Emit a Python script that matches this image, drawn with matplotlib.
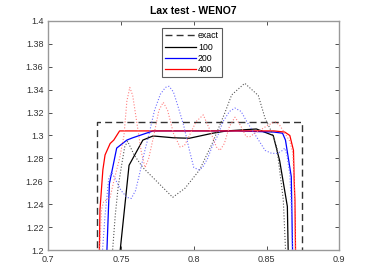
import matplotlib
matplotlib.use("Agg")
import matplotlib.pyplot as plt
from matplotlib.ticker import FormatStrFormatter

plt.rcParams['font.family'] = ['Liberation Sans', 'DejaVu Sans']

# exact solution
exact_x = [0.70, 0.7333, 0.7333, 0.8741, 0.8741, 0.90]
exact_y = [0.50, 0.50, 1.312, 1.312, 0.50, 0.50]

# solid curves (labelled)
x100 = [0.7486, 0.7555, 0.765, 0.772, 0.786, 0.797, 0.813, 0.8226, 0.843, 0.8546, 0.859, 0.8643, 0.865]
y100 = [1.19, 1.274, 1.296, 1.2996, 1.298, 1.2976, 1.302, 1.304, 1.3057, 1.300, 1.278, 1.238, 1.19]
x200 = [0.740, 0.742, 0.747, 0.754, 0.758, 0.765, 0.772, 0.80, 0.83, 0.855, 0.861, 0.863, 0.867, 0.868]
y200 = [1.19, 1.258, 1.289, 1.296, 1.298, 1.301, 1.304, 1.304, 1.304, 1.303, 1.302, 1.296, 1.264, 1.19]
x400 = [0.735, 0.7355, 0.7375, 0.739, 0.7425, 0.745, 0.749, 0.76, 0.80, 0.84, 0.855, 0.8625, 0.866, 0.8685, 0.869, 0.8695, 0.870]
y400 = [1.19, 1.235, 1.27, 1.283, 1.293, 1.296, 1.304, 1.304, 1.304, 1.304, 1.304, 1.303, 1.300, 1.287, 1.26, 1.244, 1.19]

# dotted curves (unlabelled)
xd100 = [0.7436, 0.746, 0.748, 0.7505, 0.7525, 0.7545, 0.759, 0.765, 0.7745, 0.7855, 0.794, 0.804, 0.813, 0.8214, 0.826, 0.835, 0.8443, 0.849, 0.8535, 0.857, 0.8615, 0.8634]
yd100 = [1.19, 1.23, 1.255, 1.275, 1.29, 1.295, 1.283, 1.272, 1.26, 1.246, 1.254, 1.27, 1.294, 1.32, 1.3354, 1.3456, 1.335, 1.315, 1.303, 1.29, 1.244, 1.19]
xd200 = [0.7367, 0.739, 0.7415, 0.7435, 0.746, 0.750, 0.754, 0.757, 0.760, 0.763, 0.766, 0.769, 0.773, 0.777, 0.7805, 0.783, 0.786, 0.789, 0.793, 0.797, 0.800, 0.8035, 0.806, 0.8095, 0.8125, 0.8165, 0.820, 0.8245, 0.8283, 0.8325, 0.8365, 0.8405, 0.8455, 0.849, 0.8535, 0.8575, 0.861, 0.8625, 0.864, 0.866, 0.867, 0.868]
yd200 = [1.19, 1.23, 1.262, 1.268, 1.262, 1.252, 1.246, 1.245, 1.252, 1.268, 1.285, 1.30, 1.322, 1.336, 1.342, 1.343, 1.338, 1.326, 1.309, 1.287, 1.272, 1.27, 1.272, 1.28, 1.29, 1.30, 1.312, 1.321, 1.324, 1.321, 1.312, 1.304, 1.294, 1.287, 1.2844, 1.2844, 1.287, 1.289, 1.283, 1.266, 1.24, 1.19]
xd400 = [0.735, 0.7365, 0.738, 0.7425, 0.745, 0.749, 0.752, 0.754, 0.756, 0.758, 0.761, 0.764, 0.7665, 0.769, 0.7725, 0.776, 0.779, 0.782, 0.786, 0.7905, 0.7935, 0.797, 0.8015, 0.8065, 0.811, 0.8155, 0.818, 0.821, 0.8245, 0.8283, 0.832, 0.836, 0.8386, 0.842, 0.846, 0.851, 0.856, 0.859, 0.862, 0.866, 0.868, 0.869, 0.8695, 0.870]
yd400 = [1.19, 1.235, 1.242, 1.246, 1.26, 1.28, 1.30, 1.33, 1.342, 1.335, 1.31, 1.285, 1.272, 1.28, 1.30, 1.322, 1.329, 1.322, 1.302, 1.29, 1.291, 1.30, 1.312, 1.318, 1.305, 1.29, 1.287, 1.293, 1.308, 1.316, 1.309, 1.299, 1.299, 1.302, 1.305, 1.309, 1.312, 1.309, 1.303, 1.295, 1.285, 1.26, 1.22, 1.19]

xticks = [0.7, 0.75, 0.8, 0.85, 0.9]
yticks = [1.2, 1.22, 1.24, 1.26, 1.28, 1.3, 1.32, 1.34, 1.36, 1.38, 1.4]

fig = plt.figure(figsize=(3.74, 2.8), dpi=100)
ax = fig.add_axes([48.3/374, 30/280, 291/374, 229/280])

ax.plot(exact_x, exact_y, '--', color='#333333', lw=1.0, dashes=(5, 3), label='exact')
ax.plot(x100, y100, '-', color='black', lw=0.9, label='100')
ax.plot(x200, y200, '-', color='#0000ff', lw=0.9, label='200')
ax.plot(x400, y400, '-', color='#ff0000', lw=0.9, label='400')
ax.plot(xd100, yd100, ':', color='#555555', lw=0.8)
ax.plot(xd200, yd200, ':', color='#6e6eff', lw=0.8)
ax.plot(xd400, yd400, ':', color='#ff8080', lw=0.8)

ax.set_xlim(0.7, 0.9)
ax.set_ylim(1.2, 1.4)
ax.set_xticks(xticks)
ax.set_yticks(yticks)
ax.xaxis.set_major_formatter(FormatStrFormatter('%g'))
ax.yaxis.set_major_formatter(FormatStrFormatter('%g'))
ax.tick_params(direction='in', top=True, right=True, labelsize=6.5, colors='#333333', length=3, width=0.6)
for s in ax.spines.values():
    s.set_color('#999999')
    s.set_linewidth(1.0)
ax.set_title('Lax test - WENO7', fontsize=7.5, fontweight='bold', pad=5)

leg = ax.legend(loc='upper center', bbox_to_anchor=(0.493, 0.968), fontsize=6.3,
                frameon=True, fancybox=False, edgecolor='#333333', handlelength=3.6,
                handletextpad=0.2, borderpad=0.35, labelspacing=0.25, borderaxespad=0)
leg.get_frame().set_linewidth(0.8)

fig.savefig('out.png', dpi=100)
